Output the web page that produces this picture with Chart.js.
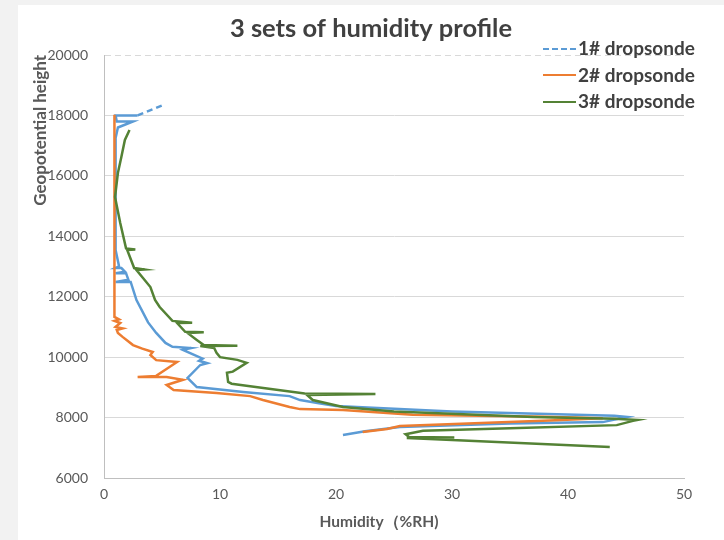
<!DOCTYPE html>
<html>
<head>
<meta charset="utf-8">
<script src="https://cdn.jsdelivr.net/npm/chart.js@4/dist/chart.umd.min.js"></script>
<style>
  html, body { margin: 0; padding: 0; background: #f2f2f2; }
  #wrap { position: relative; width: 724px; height: 540px; overflow: hidden; }
  #panel { position: absolute; left: 18px; top: 5px; right: 0; bottom: 0; background: #fff; }
  #chart { position: absolute; left: 0; top: 0; }
  .leg { position: absolute; left: 543px; height: 22px; line-height: 22px; font: bold 19px Lato, sans-serif; color: #404040; white-space: nowrap; }
  .leg i { display: inline-block; width: 33px; vertical-align: middle; margin-right: 2px; margin-top: -3px; }
</style>
</head>
<body>
<div id="wrap">
  <div id="panel"></div>
  <canvas id="chart" width="724" height="540"></canvas>
  <div id="legend"></div>
</div>
<script>
// humidity (%RH) and geopotential height (m), bottom to top
const rh1 = [20.6, 22.5, 25.5, 35, 43, 45.1, 44, 30, 20, 18.4, 16.9, 16.0, 12, 8.0, 7.2, 8.3, 8.9, 8.2, 8.5, 6.8, 7.5, 5.9, 5.3, 4.5, 3.8, 2.8,
  2.3, 1.0, 2.1, 1.9, 1.0, 1.8, 1.5, 1.0, 1.3, 1.0, 1.0, 1.2, 2.5, 1.1, 1.0, 2.9, 5.0];
const ht1 = [7420, 7550, 7690, 7800, 7850, 8020, 8060, 8200, 8380, 8480, 8580, 8710, 8850, 9010, 9310, 9740, 9800, 9880, 9950, 10240, 10300, 10340, 10470, 10800, 11150, 11890,
  12490, 12490, 12560, 12780, 12780, 12830, 12950, 12950, 13000, 13550, 17250, 17600, 17800, 17800, 18000, 18000, 18330];

const rh2 = [22.3, 24.4, 25.5, 38.4, 43, 38, 26.6, 20.6, 16.9, 16.0, 13.7, 12.6, 9.7, 6.0, 5.4, 6.8, 5.4, 2.9, 4.5, 6.3, 4.5, 4.0, 4.2, 3.3, 2.5,
  2.0, 1.6, 1.2, 1.1, 1.6, 1.0, 1.4, 0.9, 1.3, 0.9, 0.9];
const ht2 = [7520, 7620, 7720, 7900, 7980, 8030, 8090, 8250, 8280, 8350, 8580, 8710, 8810, 8910, 9080, 9250, 9340, 9340, 9380, 9840, 9900, 10070, 10170, 10280, 10400,
  10550, 10670, 10800, 10900, 10950, 11000, 11130, 11200, 11250, 11330, 18020];

const rh3 = [43.6, 26.1, 30.2, 26.3, 26.0, 27.5, 35, 44.2, 45.6, 46.0, 44, 37, 25, 20.6, 18.0, 17.5, 23.4, 17.3, 12.6, 11.0, 10.7, 10.6, 11.1, 12.3, 11.5, 10.0,
  9.7, 9.5, 8.3, 11.5, 8.6, 8.0, 7.2, 8.6, 7.0, 6.3, 7.6, 5.9, 4.8, 4.4, 4.0, 2.8, 3.5, 2.6, 2.0, 2.7, 1.9, 1.4, 0.95, 1.2, 1.5, 1.8, 2.2];
const ht3 = [7030, 7320, 7340, 7360, 7450, 7560, 7650, 7750, 7890, 7920, 7960, 8020, 8200, 8350, 8580, 8750, 8780, 8800, 9040, 9120, 9180, 9480, 9520, 9810, 9910, 10000,
  10140, 10300, 10370, 10380, 10400, 10570, 10800, 10820, 10840, 11130, 11140, 11200, 11660, 11890, 12320, 12880, 12900, 12950, 13550, 13560, 13600, 14440, 15300, 16100, 16630, 17190, 17520];

const seriesNames = ["1# dropsonde", "2# dropsonde", "3# dropsonde"];
const colors = ["#5b9bd5", "#ed7d31", "#548235"];
const yTicks = [6000, 8000, 10000, 12000, 14000, 16000, 18000, 20000];
const xTicks = [0, 10, 20, 30, 40, 50];

const toPoints = (xs, ys) => xs.map((x, i) => ({ x: x, y: ys[i] }));
const font = "Lato, 'Open Sans', sans-serif";

const ctx = document.getElementById("chart").getContext("2d");
new Chart(ctx, {
  type: "scatter",
  data: {
    datasets: [
      {
        label: seriesNames[0],
        data: toPoints(rh1, ht1),
        borderColor: colors[0],
        order: 3,
        segment: {
          borderDash: (c) => (c.p1DataIndex === rh1.length - 1 ? [6, 4] : undefined),
        },
      },
      { label: seriesNames[1], data: toPoints(rh2, ht2), borderColor: colors[1], order: 2 },
      { label: seriesNames[2], data: toPoints(rh3, ht3), borderColor: colors[2], order: 1 },
    ].map((d) => Object.assign(d, { showLine: true, borderWidth: 2.5, pointRadius: 0, tension: 0, backgroundColor: d.borderColor })),
  },
  options: {
    responsive: false,
    animation: false,
    layout: { padding: { left: 18, top: 5, right: 0, bottom: 0 } },
    plugins: {
      legend: { display: false },
      tooltip: { enabled: false },
      title: {
        display: true,
        text: "3 sets of humidity profile",
        color: "#404040",
        font: { family: font, size: 25.5, weight: "bold", lineHeight: 1.2 },
        padding: { top: 8, bottom: 11.4 },
      },
    },
    scales: {
      x: {
        type: "linear",
        min: 0,
        max: 50,
        afterBuildTicks: (s) => { s.ticks = xTicks.map((v) => ({ value: v })); },
        afterFit: (s) => { s.height = 62; },
        grid: { display: false, drawTicks: false },
        border: { display: true, color: "#bfbfbf", width: 1 },
        ticks: { color: "#595959", font: { family: font, size: 14 }, padding: 8, callback: (v) => String(v) },
        title: {
          display: true,
          text: "Humidity（%RH)\u00a0\u00a0\u00a0\u00a0\u00a0\u00a0\u00a0\u00a0",
          color: "#595959",
          font: { family: font, size: 15.5, weight: "bold", lineHeight: 1.2 },
          padding: { top: 0, bottom: 9 },
        },
      },
      y: {
        type: "linear",
        min: 6000,
        max: 20000,
        afterBuildTicks: (s) => { s.ticks = yTicks.map((v) => ({ value: v })); },
        afterFit: (s) => { s.width = 86; },
        grid: { color: "#d9d9d9", lineWidth: 1, drawTicks: false },
        border: {
          display: true,
          color: "#bfbfbf",
          width: 1,
          dash: (c) => (c.tick && c.tick.value === 20000 ? [6, 4] : []),
        },
        ticks: { color: "#595959", font: { family: font, size: 14 }, padding: 16, callback: (v) => String(v) },
        title: {
          display: true,
          text: "Geopotential height",
          align: "end",
          color: "#595959",
          font: { family: font, size: 17, weight: "bold", lineHeight: 1.2 },
          padding: { top: 12, bottom: 0 },
        },
      },
      // empty right-hand strip, keeps the plot at 684 px while the title centres on the panel
      yPad: {
        type: "linear",
        position: "right",
        min: 6000,
        max: 20000,
        afterFit: (s) => { s.width = 40; },
        grid: { display: false, drawTicks: false },
        border: { display: false },
        ticks: { display: false },
      },
    },
  },
});

// legend, top right
const legend = document.getElementById("legend");
seriesNames.forEach((name, i) => {
  const row = document.createElement("div");
  row.className = "leg";
  row.style.top = 36 + i * 26.5 + "px";
  const line = document.createElement("i");
  line.style.borderTop = "2.5px " + (i === 0 ? "dashed " : "solid ") + colors[i];
  row.appendChild(line);
  row.appendChild(document.createTextNode(name));
  legend.appendChild(row);
});
</script>
</body>
</html>
